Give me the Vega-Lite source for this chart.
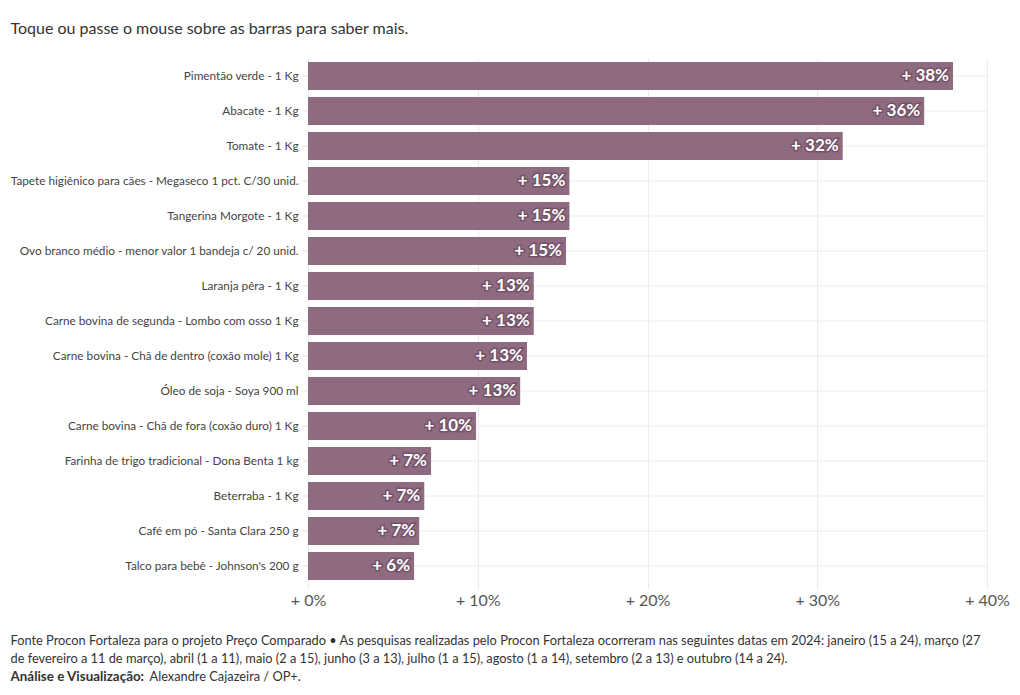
{
  "$schema": "https://vega.github.io/schema/vega-lite/v6.json",
  "width": 679,
  "height": 525,
  "autosize": {"type": "none"},
  "padding": {"left": 308, "top": 58.5, "right": 33, "bottom": 111.5},
  "background": "white",
  "config": {"font": "Lato", "view": {"stroke": null}},
  "data": {
    "values": [
      {"item": "Pimentão verde - 1 Kg", "value": 38.0, "label": "+ 38%"},
      {"item": "Abacate - 1 Kg", "value": 36.3, "label": "+ 36%"},
      {"item": "Tomate - 1 Kg", "value": 31.5, "label": "+ 32%"},
      {"item": "Tapete higiênico para cães - Megaseco 1 pct. C/30 unid.", "value": 15.4, "label": "+ 15%"},
      {"item": "Tangerina Morgote - 1 Kg", "value": 15.4, "label": "+ 15%"},
      {"item": "Ovo branco médio - menor valor 1 bandeja c/ 20 unid.", "value": 15.2, "label": "+ 15%"},
      {"item": "Laranja pêra - 1 Kg", "value": 13.3, "label": "+ 13%"},
      {"item": "Carne bovina de segunda - Lombo com osso 1 Kg", "value": 13.3, "label": "+ 13%"},
      {"item": "Carne bovina - Chã de dentro (coxão mole) 1 Kg", "value": 12.9, "label": "+ 13%"},
      {"item": "Óleo de soja - Soya 900 ml", "value": 12.5, "label": "+ 13%"},
      {"item": "Carne bovina - Chã de fora (coxão duro) 1 Kg", "value": 9.9, "label": "+ 10%"},
      {"item": "Farinha de trigo tradicional - Dona Benta 1 kg", "value": 7.25, "label": "+ 7%"},
      {"item": "Beterraba - 1 Kg", "value": 6.85, "label": "+ 7%"},
      {"item": "Café em pó - Santa Clara 250 g", "value": 6.55, "label": "+ 7%"},
      {"item": "Talco para bebê - Johnson's 200 g", "value": 6.25, "label": "+ 6%"}
    ]
  },
  "encoding": {
    "y": {
      "field": "item",
      "type": "nominal",
      "sort": null,
      "scale": {"paddingInner": 0.2, "paddingOuter": 0.1}
    },
    "x": {
      "field": "value",
      "type": "quantitative",
      "scale": {"domain": [0, 40], "nice": false}
    }
  },
  "layer": [
    {
      "mark": {"type": "bar", "color": "#8f6b82"},
      "encoding": {
        "y": {
          "field": "item",
          "type": "nominal",
          "sort": null,
          "scale": {"paddingInner": 0.2, "paddingOuter": 0.1},
          "axis": {
            "orient": "left",
            "labelFontSize": 11.75,
            "labelColor": "#444444",
            "labelLimit": 400,
            "labelPadding": 4,
            "tickColor": "#e6e6e6",
            "tickSize": 6,
            "domain": false,
            "grid": true,
            "gridColor": "#ececec",
            "bandPosition": 0.5,
            "title": "Toque ou passe o mouse sobre as barras para saber mais.",
            "titleAngle": 0,
            "titleAlign": "left",
            "titleBaseline": "alphabetic",
            "titleX": -298,
            "titleY": -25,
            "titleFontSize": 16,
            "titleFontWeight": "normal",
            "titleColor": "#333333"
          }
        },
        "x": {
          "field": "value",
          "type": "quantitative",
          "scale": {"domain": [0, 40], "nice": false},
          "axis": {
            "orient": "bottom",
            "values": [0, 10, 20, 30, 40],
            "labelExpr": "'+ ' + datum.value + '%'",
            "labelFontSize": 16,
            "labelColor": "#555555",
            "labelFlush": false,
            "labelPadding": 4,
            "tickColor": "#e6e6e6",
            "tickSize": 5,
            "domain": false,
            "grid": true,
            "gridColor": "#ececec",
            "title": ["Fonte Procon Fortaleza para o projeto Preço Comparado • As pesquisas realizadas pelo Procon Fortaleza ocorreram nas seguintes datas em 2024: janeiro (15 a 24), março (27", "de fevereiro a 11 de março), abril (1 a 11), maio (2 a 15), junho (3 a 13), julho (1 a 15), agosto (1 a 14), setembro (2 a 13) e outubro (14 a 24)."],
            "titleAlign": "left",
            "titleBaseline": "alphabetic",
            "titleX": -298,
            "titleY": 61,
            "titleFontSize": 12.8,
            "titleFontWeight": "normal",
            "titleColor": "#333333",
            "titleLineHeight": 18
          }
        }
      }
    },
    {
      "mark": {"type": "text", "align": "right", "baseline": "middle", "dx": -4, "fontSize": 17, "fontWeight": "bold", "fill": "#4a2f40", "stroke": "#4a2f40", "strokeWidth": 3, "opacity": 0.4},
      "encoding": {
        "text": {"field": "label"},
        "y": {
          "field": "item",
          "type": "nominal",
          "sort": null,
          "axis": {
            "orient": "right",
            "labels": false,
            "ticks": false,
            "domain": false,
            "grid": false,
            "title": "Alexandre Cajazeira / OP+.",
            "titleAngle": 0,
            "titleAlign": "left",
            "titleBaseline": "alphabetic",
            "titleX": -838,
            "titleY": 622,
            "titleFontSize": 12.8,
            "titleFontWeight": "normal",
            "titleColor": "#333333"
          }
        },
        "x": {
          "field": "value",
          "type": "quantitative",
          "axis": {
            "orient": "top",
            "labels": false,
            "ticks": false,
            "domain": false,
            "grid": false,
            "title": "Análise e Visualização:",
            "titleAlign": "left",
            "titleBaseline": "alphabetic",
            "titleX": -298,
            "titleY": 622,
            "titleFontSize": 13.4,
            "titleFontWeight": "bold",
            "titleColor": "#333333"
          }
        }
      }
    },
    {
      "mark": {"type": "text", "align": "right", "baseline": "middle", "dx": -4, "fontSize": 17, "fontWeight": "bold", "fill": "white"},
      "encoding": {
        "text": {"field": "label"},
        "y": {"field": "item", "type": "nominal", "sort": null, "axis": null},
        "x": {"field": "value", "type": "quantitative", "axis": null}
      }
    }
  ],
  "resolve": {"axis": {"x": "independent", "y": "independent"}}
}
